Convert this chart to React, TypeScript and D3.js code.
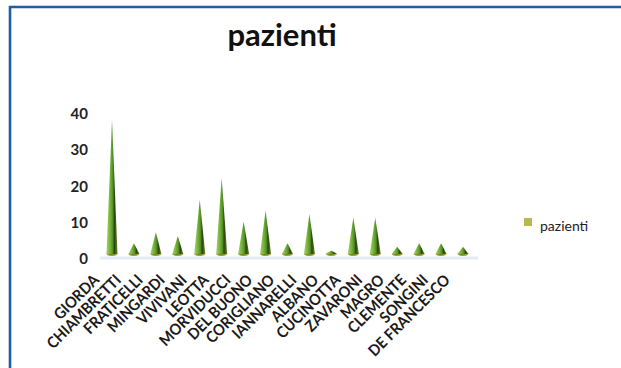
import React from "react";
import * as d3 from "d3";

// Patients per doctor
const categories = [
  "GIORDA", "CHIAMBRETTI", "FRATICELLI", "MINGARDI", "VIVIVANI", "LEOTTA",
  "MORVIDUCCI", "DEL BUONO", "CORIGLIANO", "IANNARELLI", "ALBANO",
  "CUCINOTTA", "ZAVARONI", "MAGRO", "CLEMENTE", "SONGINI", "DE FRANCESCO",
];
const pazienti = [37, 3, 6, 5, 15, 21, 9, 12, 3, 11, 1, 10, 10, 2, 3, 3, 2];
const yTicks = [0, 10, 20, 30, 40];
const seriesName = "pazienti";
const chartTitle = "pazienti";

const W = 621;
const H = 368;
const FONT = "Lato, 'Open Sans', sans-serif";

export default function App() {
  const x = d3.scalePoint<string>().domain(categories).range([112, 463]);
  // cones stand on the floor; tick labels sit on the back wall
  const yCone = d3.scaleLinear().domain([0, 40]).range([254, 109]);
  const yWall = d3.scaleLinear().domain([0, 40]).range([258, 113]);
  const halfW = 5.5;

  return (
    <svg
      width={W}
      height={H}
      style={{ position: "absolute", left: 0, top: 0, background: "#fff" }}
    >
      <defs>
        <linearGradient id="cone" x1="0" x2="1" y1="0" y2="0">
          <stop offset="0" stopColor="#a6d064" />
          <stop offset="0.35" stopColor="#74b23a" />
          <stop offset="0.58" stopColor="#4f8d25" />
          <stop offset="0.72" stopColor="#2a4410" />
          <stop offset="1" stopColor="#6a8a2a" />
        </linearGradient>
        <radialGradient id="base" cx="0.45" cy="0.5" r="0.6">
          <stop offset="0" stopColor="#6b6a1c" />
          <stop offset="1" stopColor="#c2c04a" />
        </radialGradient>
      </defs>

      <rect x={0} y={0} width={W} height={H} fill="#fff" />
      {/* frame */}
      <path d={`M10 ${H} V7 H${W}`} fill="none" stroke="#1d5ea6" strokeWidth={2.6} />

      <text
        x={282}
        y={46}
        textAnchor="middle"
        fontFamily={FONT}
        fontWeight={700}
        fontSize={31}
        fill="#111"
      >
        {chartTitle}
      </text>

      {/* floor edge */}
      <line x1={100} x2={478} y1={258} y2={258} stroke="#e3ecf4" strokeWidth={3} />

      {yTicks.map((t) => (
        <text
          key={t}
          x={88}
          y={yWall(t)}
          textAnchor="end"
          dominantBaseline="central"
          fontFamily={FONT}
          fontWeight={700}
          fontSize={15}
          fill="#222"
        >
          {t}
        </text>
      ))}

      {categories.map((c, i) => {
        const cx = x(c)!;
        const base = yCone(0);
        const tip = yCone(pazienti[i]);
        return (
          <g key={c}>
            <ellipse cx={cx} cy={base} rx={halfW} ry={2} fill="url(#base)" />
            <path
              d={`M${cx - halfW} ${base} L${cx} ${tip} L${cx + halfW} ${base} Z`}
              fill="url(#cone)"
            />
          </g>
        );
      })}

      {categories.map((c) => {
        const ax = x(c)! - 12;
        const ay = 281;
        return (
          <text
            key={c}
            transform={`translate(${ax},${ay}) rotate(-45) scale(0.93,1)`}
            textAnchor="end"
            fontFamily={FONT}
            fontWeight={700}
            fontSize={15.5}
            fill="#1a1a1a"
          >
            {c}
          </text>
        );
      })}

      {/* legend */}
      <rect x={524} y={218} width={8} height={8} fill="#b8bb4c" />
      <text x={540} y={231} fontFamily={FONT} fontSize={14} fill="#222">
        {seriesName}
      </text>
    </svg>
  );
}
